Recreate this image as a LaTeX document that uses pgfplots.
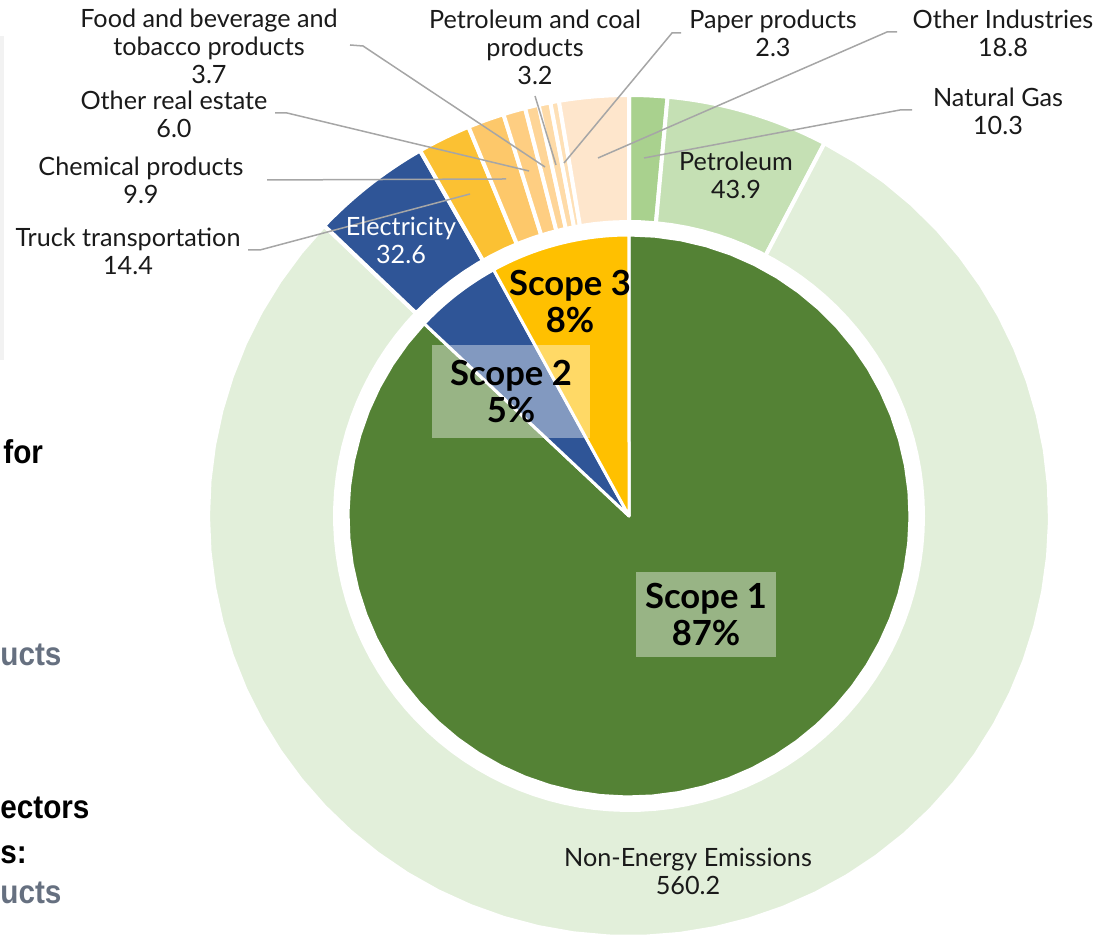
\documentclass[border=0pt]{standalone}
\usepackage{pgfplots}
\pgfplotsset{compat=1.18}
\usepackage{pgfplotstable}
\usepackage{fontspec}
\setmainfont{Lato}
\newfontfamily\strayfont{Liberation Sans}

\definecolor{cSone}{HTML}{548235}
\definecolor{cStwo}{HTML}{2F5597}
\definecolor{cSthree}{HTML}{FFC000}
\definecolor{cNG}{HTML}{A9D18E}
\definecolor{cPet}{HTML}{C5E0B4}
\definecolor{cNonE}{HTML}{E2EFDA}
\definecolor{cElec}{HTML}{2F5597}
\definecolor{cTruck}{HTML}{FBC133}
\definecolor{cChem}{HTML}{FDC86A}
\definecolor{cORE}{HTML}{FECE82}
\definecolor{cFood}{HTML}{FED597}
\definecolor{cPC}{HTML}{FEDBA8}
\definecolor{cPaper}{HTML}{FEE0B6}
\definecolor{cOthInd}{HTML}{FEE6CC}
\definecolor{lead}{HTML}{A6A6A6}
\definecolor{labtxt}{HTML}{1A1A1A}
\definecolor{straygray}{HTML}{667080}
\definecolor{panel}{HTML}{F2F2F2}

% cumulative angles, clockwise from 12 o'clock
\newcommand\computeangles[2]{%
  \pgfplotstablegetrowsof{#1}\pgfmathtruncatemacro\nr{\pgfplotsretval-1}%
  \def\tot{0}%
  \pgfplotsforeachungrouped \i in {0,...,\nr}{%
    \pgfplotstablegetelem{\i}{value}\of#1%
    \pgfmathsetmacro\tot{\tot+\pgfplotsretval}}%
  \def\cur{90}%
  \pgfplotsforeachungrouped \i in {0,...,\nr}{%
    \pgfplotstablegetelem{\i}{value}\of#1%
    \pgfmathsetmacro\nxt{\cur-\pgfplotsretval/\tot*360}%
    \expandafter\xdef\csname #2S\i\endcsname{\nxt}%
    \expandafter\xdef\csname #2E\i\endcsname{\cur}%
    \let\cur\nxt}%
}
\newcommand\wedgeplot[5]{%
  \edef\tmpplot{\noexpand\addplot[fill=#3, draw=white, line width=#5, line join=round,
    domain=\csname #1S#2\endcsname:\csname #1E#2\endcsname, samples=60]
    ({#4*cos(x)},{#4*sin(x)}) -- (axis cs:0,0) -- cycle;}%
  \tmpplot}

\begin{document}
\pgfplotstableread{
name value
NaturalGas 10.3
Petroleum 43.9
NonEnergy 560.2
Electricity 32.6
Truck 14.4
Chemical 9.9
OtherRealEstate 6.0
FoodBev 3.7
PetCoal 3.2
Paper 2.3
OtherIndustries 18.8
}\outerdata
\pgfplotstableread{
name value
Scope1 87
Scope2 5
Scope3 8
}\innerdata
\computeangles{\outerdata}{o}%
\computeangles{\innerdata}{i}%
\begin{tikzpicture}
\begin{axis}[
  scale only axis, width=547.5pt, height=470pt,
  xmin=-629, xmax=466, ymin=-424, ymax=516,
  axis line style={draw=none}, ticks=none,
]
% outer ring
\wedgeplot{o}{0}{cNG}{421}{2pt}
\wedgeplot{o}{1}{cPet}{421}{2pt}
\wedgeplot{o}{2}{cNonE}{421}{2pt}
\wedgeplot{o}{3}{cElec}{421}{2pt}
\wedgeplot{o}{4}{cTruck}{421}{2pt}
\wedgeplot{o}{5}{cChem}{421}{2pt}
\wedgeplot{o}{6}{cORE}{421}{2pt}
\wedgeplot{o}{7}{cFood}{421}{2pt}
\wedgeplot{o}{8}{cPC}{421}{2pt}
\wedgeplot{o}{9}{cPaper}{421}{2pt}
\wedgeplot{o}{10}{cOthInd}{421}{2pt}
\addplot[fill=white, draw=none, domain=0:360, samples=120] ({296*cos(x)},{296*sin(x)}) -- cycle;
% inner pie
\wedgeplot{i}{0}{cSone}{281}{1.5pt}
\wedgeplot{i}{1}{cStwo}{281}{1.5pt}
\wedgeplot{i}{2}{cSthree}{281}{1.5pt}

% stray page elements on the left
\fill[panel] (axis cs:-629,156) rectangle (axis cs:-625,480);
\begin{scope}[every node/.style={anchor=west, inner sep=0pt, xscale=0.9}, font=\strayfont\bfseries\fontsize{16.5}{19}\selectfont]
\node at (axis cs:-626,64) {for};
\node[text=straygray] at (axis cs:-629,-139) {ucts};
\node at (axis cs:-629,-292) {ectors};
\node at (axis cs:-629,-339) {s:};
\node[text=straygray] at (axis cs:-629,-377) {ucts};
\end{scope}

% leader lines
\begin{scope}[draw=lead, line width=0.75pt]
\draw (axis cs:-279,471) -- (axis cs:-266,470) -- (axis cs:-84,349);
\draw (axis cs:-94,420) -- (axis cs:-73,351);
\draw (axis cs:52,483) -- (axis cs:43,483) -- (axis cs:-65,353);
\draw (axis cs:268,484) -- (axis cs:258,484) -- (axis cs:-31,358);
\draw (axis cs:283,406) -- (axis cs:271,406) -- (axis cs:15,358);
\draw (axis cs:-354,403) -- (axis cs:-342,403) -- (axis cs:-100,345);
\draw (axis cs:-362,336) -- (axis cs:-123,337);
\draw (axis cs:-381,266) -- (axis cs:-369,266) -- (axis cs:-159,322);
\end{scope}

% labels
\begin{scope}[every node/.style={align=center, text=labtxt, font=\fontsize{12.6}{14}\selectfont, inner sep=0pt}]
\node at (axis cs:-420,470) {Food and beverage and\\tobacco products\\3.7};
\node at (axis cs:-94,469) {Petroleum and coal\\products\\3.2};
\node at (axis cs:144,483) {Paper products\\2.3};
\node at (axis cs:374,483) {Other Industries\\18.8};
\node at (axis cs:369,405) {Natural Gas\\10.3};
\node at (axis cs:-455,402) {Other real estate\\6.0};
\node at (axis cs:-488,336) {Chemical products\\9.9};
\node at (axis cs:-501,264.5) {Truck transportation\\14.4};
\node[text=white] at (axis cs:-228,276) {Electricity\\32.6};
\node at (axis cs:107,340.5) {Petroleum\\43.9};
\node at (axis cs:59,-355.5) {Non-Energy Emissions\\560.2};
\end{scope}

% scope labels
\fill[white, opacity=0.4] (axis cs:-197,171) rectangle (axis cs:-39,78);
\fill[white, opacity=0.4] (axis cs:7,-56) rectangle (axis cs:147,-141);
\begin{scope}[every node/.style={align=center, text=black, font=\bfseries\fontsize{17.3}{18.5}\selectfont, inner sep=0pt}]
\node at (axis cs:-59,214.5) {Scope 3\\8\%};
\node at (axis cs:-118,124.5) {Scope 2\\5\%};
\node at (axis cs:77,-98.5) {Scope 1\\87\%};
\end{scope}
\end{axis}
\end{tikzpicture}
\end{document}
